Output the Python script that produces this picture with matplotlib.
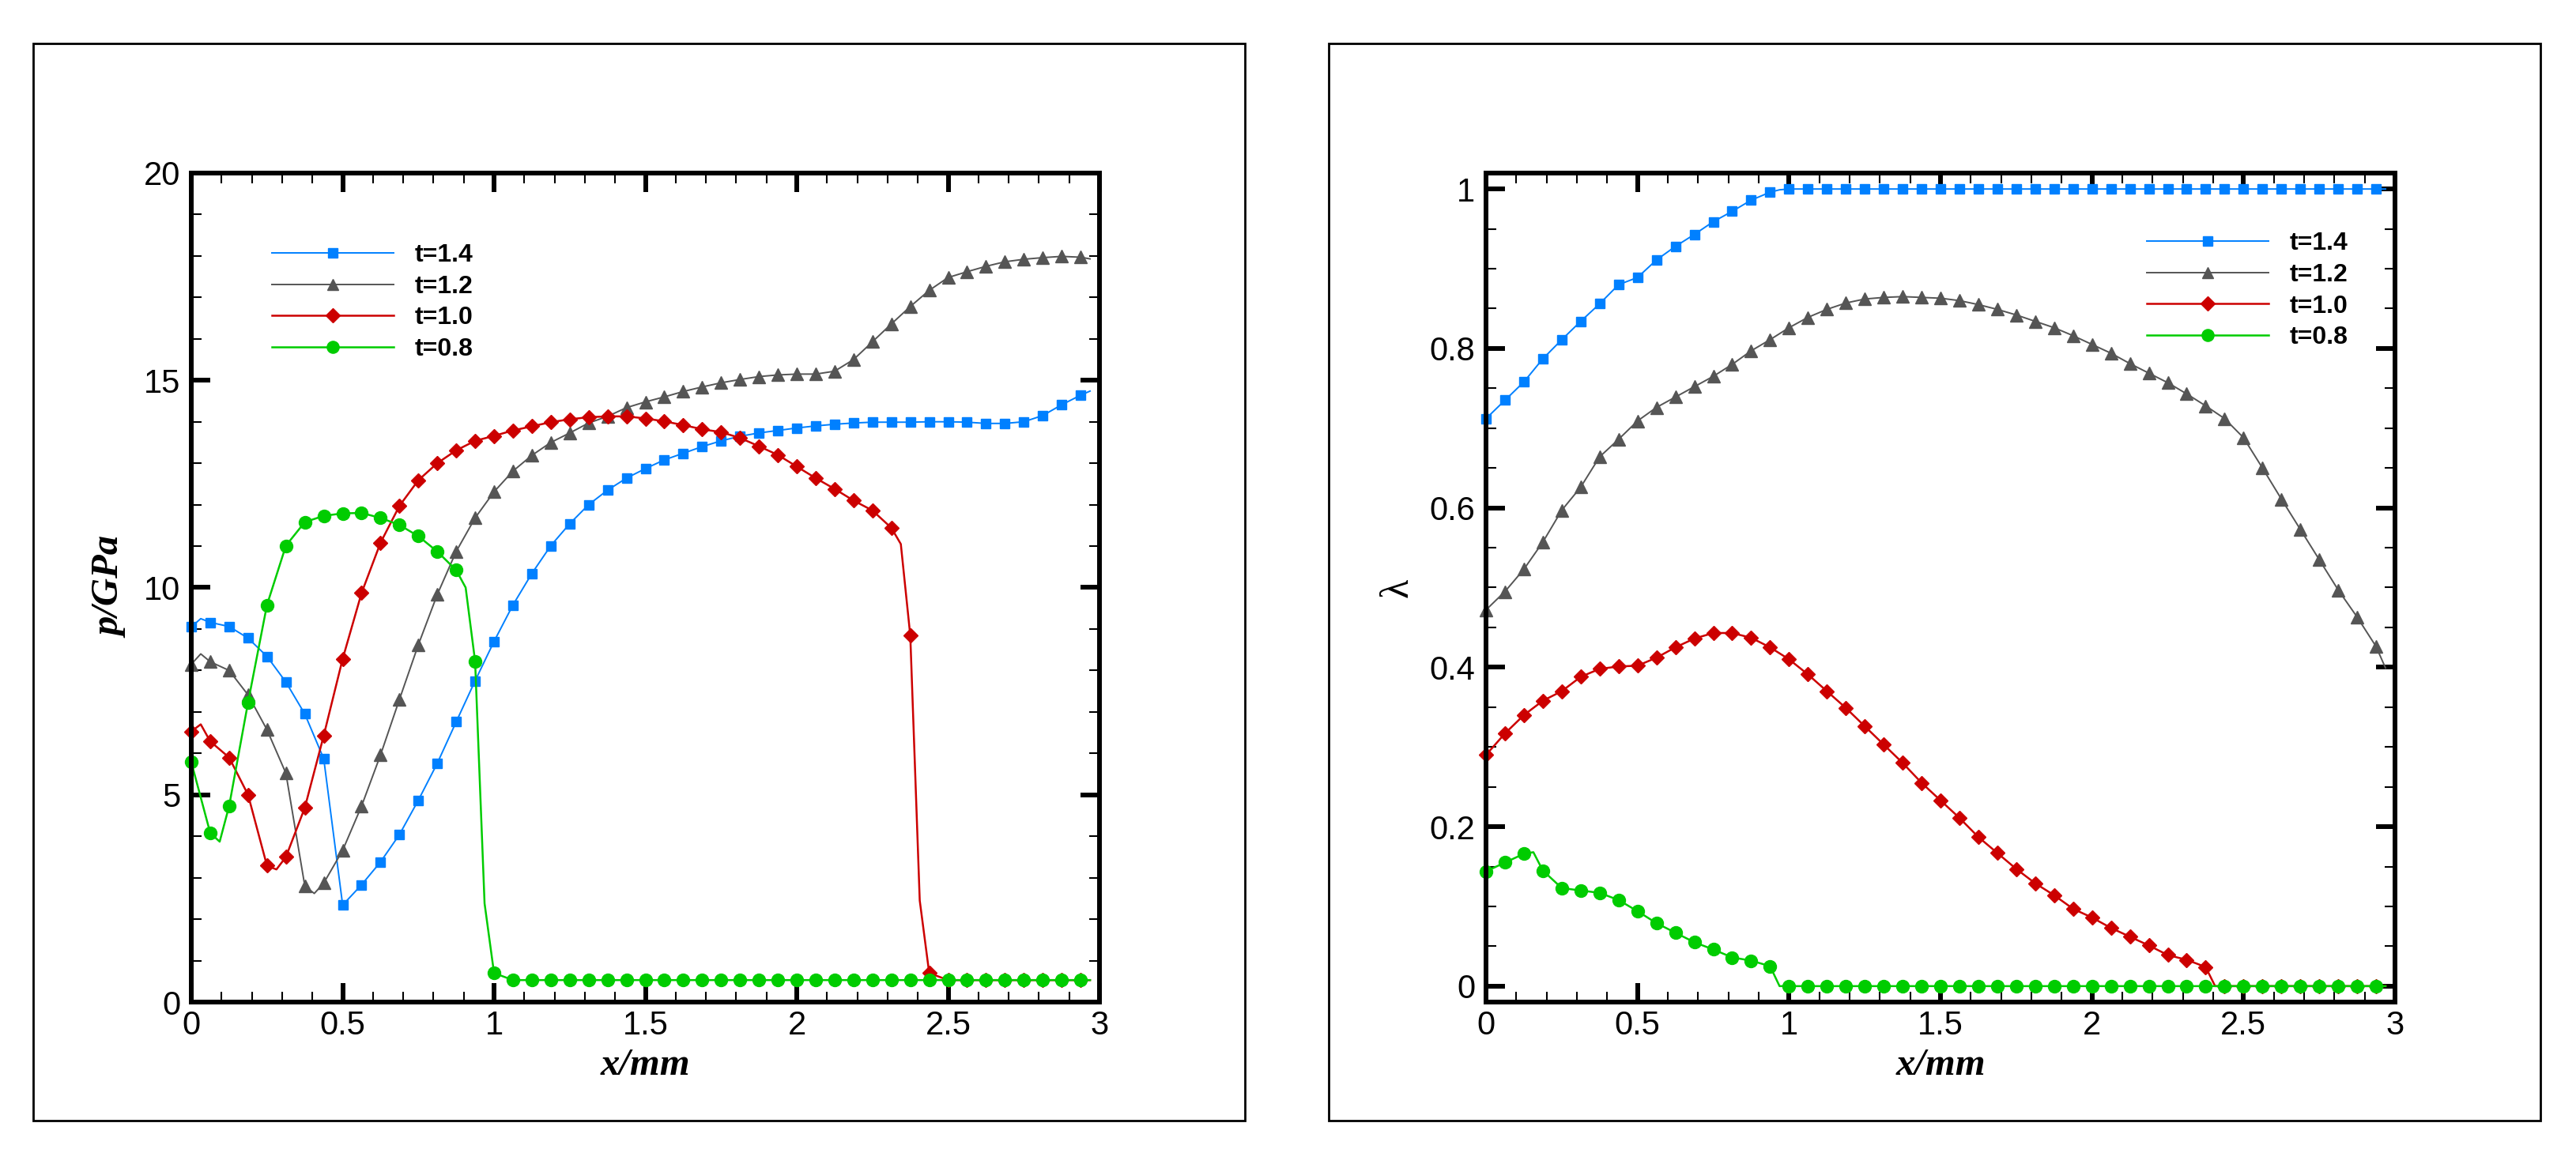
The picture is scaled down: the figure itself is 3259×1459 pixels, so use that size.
import numpy as np
import matplotlib.pyplot as plt
from matplotlib.lines import Line2D
from matplotlib.patches import Rectangle
from matplotlib.ticker import MultipleLocator, FormatStrFormatter

# marker grid: every 1/16 mm, 48 points
x_grid = np.arange(48) / 16.0
x_end = 95 / 32.0

labels = ['t=1.4', 't=1.2', 't=1.0', 't=0.8']
colors = ['#0080FF', '#555555', '#CC0000', '#00CC00']
markers = ['s', '^', 'D', 'o']

# ---- pressure p/GPa ----
p14 = [9.05, 9.16, 9.06, 8.78, 8.34, 7.72, 6.95, 5.87, 2.34, 2.83, 3.38, 4.04,
       4.87, 5.76, 6.76, 7.75, 8.70, 9.58, 10.34, 11.01, 11.54, 12.00, 12.35, 12.64,
       12.87, 13.08, 13.24, 13.40, 13.54, 13.65, 13.73, 13.79, 13.85, 13.90, 13.94, 13.97,
       13.99, 13.99, 13.99, 14.00, 14.00, 13.99, 13.96, 13.96, 14.00, 14.15, 14.41, 14.64]
p12 = [8.15, 8.21, 8.00, 7.41, 6.57, 5.52, 2.80, 2.87, 3.66, 4.73, 5.96, 7.30,
       8.62, 9.83, 10.87, 11.68, 12.31, 12.81, 13.19, 13.50, 13.73, 13.97, 14.13, 14.34,
       14.48, 14.60, 14.73, 14.84, 14.94, 15.02, 15.09, 15.13, 15.15, 15.15, 15.22, 15.50,
       15.93, 16.36, 16.78, 17.17, 17.48, 17.62, 17.75, 17.86, 17.92, 17.96, 17.99, 17.97]
p10 = [6.53, 6.29, 5.90, 5.00, 3.29, 3.50, 4.69, 6.43, 8.28, 9.87, 11.08, 11.97,
       12.59, 13.00, 13.31, 13.54, 13.66, 13.79, 13.89, 13.99, 14.06, 14.11, 14.13, 14.13,
       14.08, 14.01, 13.92, 13.82, 13.75, 13.61, 13.41, 13.20, 12.92, 12.64, 12.38, 12.10,
       11.86, 11.44, 8.84, 0.70, 0.53, 0.53, 0.53, 0.53, 0.53, 0.53, 0.53, 0.53]
p08 = [5.79, 4.08, 4.73, 7.23, 9.58, 11.01, 11.58, 11.73, 11.79, 11.80, 11.68, 11.51,
       11.24, 10.87, 10.42, 8.22, 0.70, 0.53, 0.53, 0.53, 0.53, 0.53, 0.53, 0.53,
       0.53, 0.53, 0.53, 0.53, 0.53, 0.53, 0.53, 0.53, 0.53, 0.53, 0.53, 0.53,
       0.53, 0.53, 0.53, 0.53, 0.53, 0.53, 0.53, 0.53, 0.53, 0.53, 0.53, 0.53]
# extra line vertices between markers (x, y)
p14_kx, p14_ky = [0.03125, x_end], [9.25, 14.74]
p12_kx, p12_ky = [0.03125, 0.40625, x_end], [8.40, 2.62, 17.93]
p10_kx, p10_ky = [0.03125, 0.28125, 2.34375, 2.40625, x_end], [6.70, 3.20, 11.05, 2.45, 0.53]
p08_kx, p08_ky = [0.09375, 0.90625, 0.96875, x_end], [3.87, 10.00, 2.38, 0.53]

# ---- reaction progress lambda ----
l14 = [0.712, 0.735, 0.758, 0.787, 0.811, 0.834, 0.856, 0.880, 0.889, 0.911, 0.928, 0.943,
       0.959, 0.972, 0.986, 0.996, 1.0, 1.0, 1.0, 1.0, 1.0, 1.0, 1.0, 1.0,
       1.0, 1.0, 1.0, 1.0, 1.0, 1.0, 1.0, 1.0, 1.0, 1.0, 1.0, 1.0,
       1.0, 1.0, 1.0, 1.0, 1.0, 1.0, 1.0, 1.0, 1.0, 1.0, 1.0, 1.0]
l12 = [0.472, 0.495, 0.523, 0.557, 0.597, 0.626, 0.664, 0.686, 0.709, 0.726, 0.739, 0.752,
       0.765, 0.780, 0.797, 0.811, 0.826, 0.839, 0.849, 0.857, 0.862, 0.864, 0.865, 0.864,
       0.863, 0.860, 0.855, 0.849, 0.842, 0.834, 0.826, 0.816, 0.805, 0.794, 0.781, 0.769,
       0.757, 0.743, 0.728, 0.712, 0.688, 0.650, 0.611, 0.573, 0.535, 0.497, 0.463, 0.426]
l10 = [0.290, 0.317, 0.340, 0.358, 0.370, 0.388, 0.398, 0.401, 0.402, 0.412, 0.425, 0.436,
       0.443, 0.443, 0.437, 0.425, 0.410, 0.391, 0.370, 0.349, 0.326, 0.303, 0.280, 0.255,
       0.233, 0.211, 0.187, 0.167, 0.147, 0.129, 0.114, 0.097, 0.086, 0.073, 0.062, 0.051,
       0.039, 0.033, 0.024, 0.0, 0.0, 0.0, 0.0, 0.0, 0.0, 0.0, 0.0, 0.0]
l08 = [0.144, 0.155, 0.166, 0.145, 0.123, 0.120, 0.117, 0.108, 0.094, 0.079, 0.067, 0.055,
       0.046, 0.036, 0.032, 0.025, 0.0, 0.0, 0.0, 0.0, 0.0, 0.0, 0.0, 0.0,
       0.0, 0.0, 0.0, 0.0, 0.0, 0.0, 0.0, 0.0, 0.0, 0.0, 0.0, 0.0,
       0.0, 0.0, 0.0, 0.0, 0.0, 0.0, 0.0, 0.0, 0.0, 0.0, 0.0, 0.0]
l14_kx, l14_ky = [0.96875, x_end], [0.999, 1.0]
l12_kx, l12_ky = [x_end], [0.399]
l10_kx, l10_ky = [2.40625, x_end], [0.0, 0.0]
l08_kx, l08_ky = [0.15625, 0.96875, x_end], [0.168, 0.0, 0.0]


def merge(ym, kx, ky):
    xs = np.concatenate([x_grid, kx])
    ys = np.concatenate([ym, ky])
    order = np.argsort(xs, kind='stable')
    is_grid = np.concatenate([np.ones(len(x_grid), bool), np.zeros(len(kx), bool)])[order]
    return xs[order], ys[order], list(np.nonzero(is_grid)[0])


msizes = {'s': 9.0, '^': 11.0, 'D': 9.5, 'o': 11.5}
lws = [1.4, 1.4, 1.8, 1.8]

fig = plt.figure(figsize=(32.59, 14.59), dpi=100)

# outer frames
for fx in (0.01289, 0.51580):
    fig.patches.append(Rectangle((fx, 0.0281), 0.47039, 0.9342, transform=fig.transFigure,
                                 fill=False, lw=2.0, ec='black'))

ax1 = fig.add_axes([0.07426, 0.13091, 0.35256, 0.71899])
ax2 = fig.add_axes([0.57687, 0.13091, 0.35287, 0.71899])

sets1 = [(p14, p14_kx, p14_ky), (p12, p12_kx, p12_ky), (p10, p10_kx, p10_ky), (p08, p08_kx, p08_ky)]
sets2 = [(l14, l14_kx, l14_ky), (l12, l12_kx, l12_ky), (l10, l10_kx, l10_ky), (l08, l08_kx, l08_ky)]

for ax, sets in ((ax1, sets1), (ax2, sets2)):
    for (ym, kx, ky), c, m, lw in zip(sets, colors, markers, lws):
        xs, ys, idx = merge(ym, kx, ky)
        ax.plot(xs, ys, color=c, lw=lw, marker=m, ms=msizes[m], mec=c, mfc=c,
                markevery=idx, clip_on=False)

ax1.set_ylim(0, 20)
ax1.yaxis.set_major_locator(MultipleLocator(5))
ax1.yaxis.set_minor_locator(MultipleLocator(1))
ax2.set_ylim(-0.02, 1.02)
ax2.yaxis.set_major_locator(MultipleLocator(0.2))
ax2.yaxis.set_minor_locator(MultipleLocator(0.05))

for ax in (ax1, ax2):
    ax.set_xlim(0, 3)
    ax.xaxis.set_major_locator(MultipleLocator(0.5))
    ax.xaxis.set_minor_locator(MultipleLocator(0.1))
    ax.xaxis.set_major_formatter(FormatStrFormatter('%g'))
    ax.yaxis.set_major_formatter(FormatStrFormatter('%g'))
    for s in ax.spines.values():
        s.set_linewidth(4.3)
    ax.tick_params(which='both', direction='in', top=True, right=True)
    ax.tick_params(which='major', length=17, width=4.3)
    ax.tick_params(which='minor', length=9.4, width=1.5)
    ax.tick_params(axis='x', which='major', pad=7)
    ax.tick_params(axis='y', which='major', pad=10)
    for lab in ax.get_xticklabels() + ax.get_yticklabels():
        lab.set_fontfamily('Liberation Sans')
        lab.set_fontsize(30)
    ax.set_xlabel('x/mm', family='Liberation Serif', weight='bold', style='italic',
                  size=35, labelpad=6)

ax1.set_ylabel('p/GPa', family='Liberation Serif', weight='bold', style='italic',
               size=35, labelpad=14)
ax2.set_ylabel('λ', family='Liberation Serif', size=36, labelpad=12)

handles = [Line2D([], [], color=c, lw=lw, marker=m, ms=msizes[m] * 0.95, mec=c, mfc=c)
           for c, m, lw in zip(colors, markers, lws)]
leg_kw = dict(frameon=False, loc='upper left', borderpad=0, borderaxespad=0,
              handlelength=4.83, handletextpad=0.82, labelspacing=0.3,
              prop={'family': 'Liberation Sans', 'weight': 'bold', 'size': 23})
ax1.legend(handles, labels, bbox_to_anchor=(0.0888, 0.915), **leg_kw)
ax2.legend(handles, labels, bbox_to_anchor=(0.727, 0.929), **leg_kw)

fig.savefig('out.png', dpi=100)
